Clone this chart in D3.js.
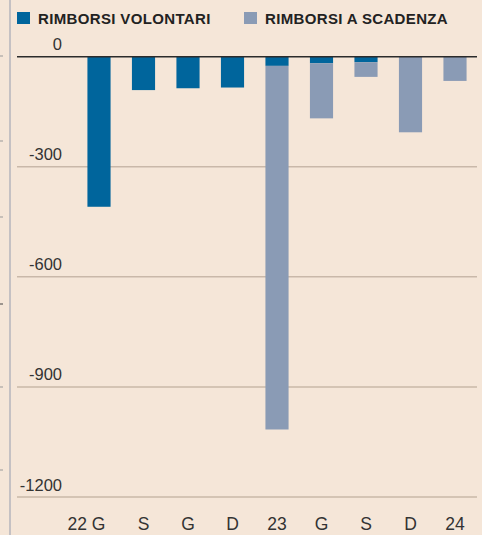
<!DOCTYPE html>
<html>
<head>
<meta charset="utf-8">
<script src="https://cdn.jsdelivr.net/npm/d3@7/dist/d3.min.js"></script>
<style>
  html, body { margin: 0; padding: 0; background: #f5e6d8; }
  svg { display: block; }
</style>
</head>
<body>
<script>
// ---- Data ----
const categories = ["22 G", "S", "G", "D", "23", "G", "S", "D", "24"];
const volontari = [-409, -91, -86, -84, -25, -18, -15, 0, 0];
const scadenza  = [0, 0, 0, 0, -991, -150, -40, -206, -66];
const yTicks = [0, -300, -600, -900, -1200];
const seriesNames = ["RIMBORSI VOLONTARI", "RIMBORSI A SCADENZA"];
const seriesColors = ["#00659c", "#8a9bb5"];

// ---- Layout ----
const W = 482, H = 535;
const svg = d3.select("body").append("svg").attr("width", W).attr("height", H);
svg.append("rect").attr("width", W).attr("height", H).attr("fill", "#f5e6d8");

// left panel remnants
svg.append("line").attr("x1", 10).attr("x2", 10).attr("y1", 0).attr("y2", H)
  .attr("stroke", "#b4b4bc").attr("stroke-width", 1.5);
[56, 141, 217, 304, 387, 470].forEach((yy, i) => {
  svg.append("line").attr("x1", 0).attr("x2", 3).attr("y1", yy).attr("y2", yy)
    .attr("stroke", i === 3 ? "#444" : "#999").attr("stroke-width", 1);
});

const y = d3.scaleLinear().domain([0, -1200]).range([56.7, 497]);
const x = d3.scaleBand().domain(d3.range(categories.length))
  .range([76.75, 477.25]).paddingInner(0.48).paddingOuter(0.24);

// gridlines + labels
const grid = svg.append("g");
yTicks.forEach(t => {
  if (t !== 0) {
    grid.append("line").attr("x1", 17).attr("x2", 477)
      .attr("y1", y(t)).attr("y2", y(t))
      .attr("stroke", "#c9b8a9").attr("stroke-width", 1.5);
  }
  grid.append("text").attr("x", 62).attr("y", y(t) - 6.5)
    .attr("text-anchor", "end")
    .attr("font-family", "Liberation Sans, Arial, sans-serif")
    .attr("font-size", 16.5).attr("fill", "#333")
    .text(t === 0 ? "0" : String(t));
});

// stacked bars
const keys = ["volontari", "scadenza"];
const rows = categories.map((c, i) => ({ i, volontari: volontari[i], scadenza: scadenza[i] }));
const stack = d3.stack().keys(keys).offset(d3.stackOffsetDiverging);
const stacked = stack(rows);

svg.append("g").selectAll("g").data(stacked).join("g")
  .attr("fill", (d, k) => seriesColors[k])
  .selectAll("rect").data(d => d).join("rect")
  .attr("x", d => x(d.data.i))
  .attr("width", x.bandwidth())
  .attr("y", d => y(Math.max(d[0], d[1])))
  .attr("height", d => Math.abs(y(d[1]) - y(d[0])));

// zero line
svg.append("line").attr("x1", 17).attr("x2", 477)
  .attr("y1", y(0)).attr("y2", y(0))
  .attr("stroke", "#2b2b2b").attr("stroke-width", 1.5);

// x labels
svg.append("g").selectAll("text").data(categories).join("text")
  .attr("x", (d, i) => x(i) + x.bandwidth() / 2 + (d.includes(" ") ? 6.5 : 0))
  .attr("y", 530)
  .attr("text-anchor", d => d.includes(" ") ? "end" : "middle")
  .attr("font-family", "Liberation Sans, Arial, sans-serif")
  .attr("font-size", 17.5).attr("fill", "#333")
  .text(d => d);

// legend
const legX = [17, 244];
seriesNames.forEach((n, k) => {
  svg.append("rect").attr("x", legX[k]).attr("y", 12).attr("width", 13).attr("height", 12)
    .attr("fill", seriesColors[k]);
  svg.append("text").attr("x", legX[k] + 21).attr("y", 23.5)
    .attr("font-family", "Liberation Sans, Arial, sans-serif")
    .attr("font-weight", "bold").attr("font-size", 15).attr("letter-spacing", 0.35)
    .attr("fill", "#222")
    .text(n);
});
</script>
</body>
</html>
